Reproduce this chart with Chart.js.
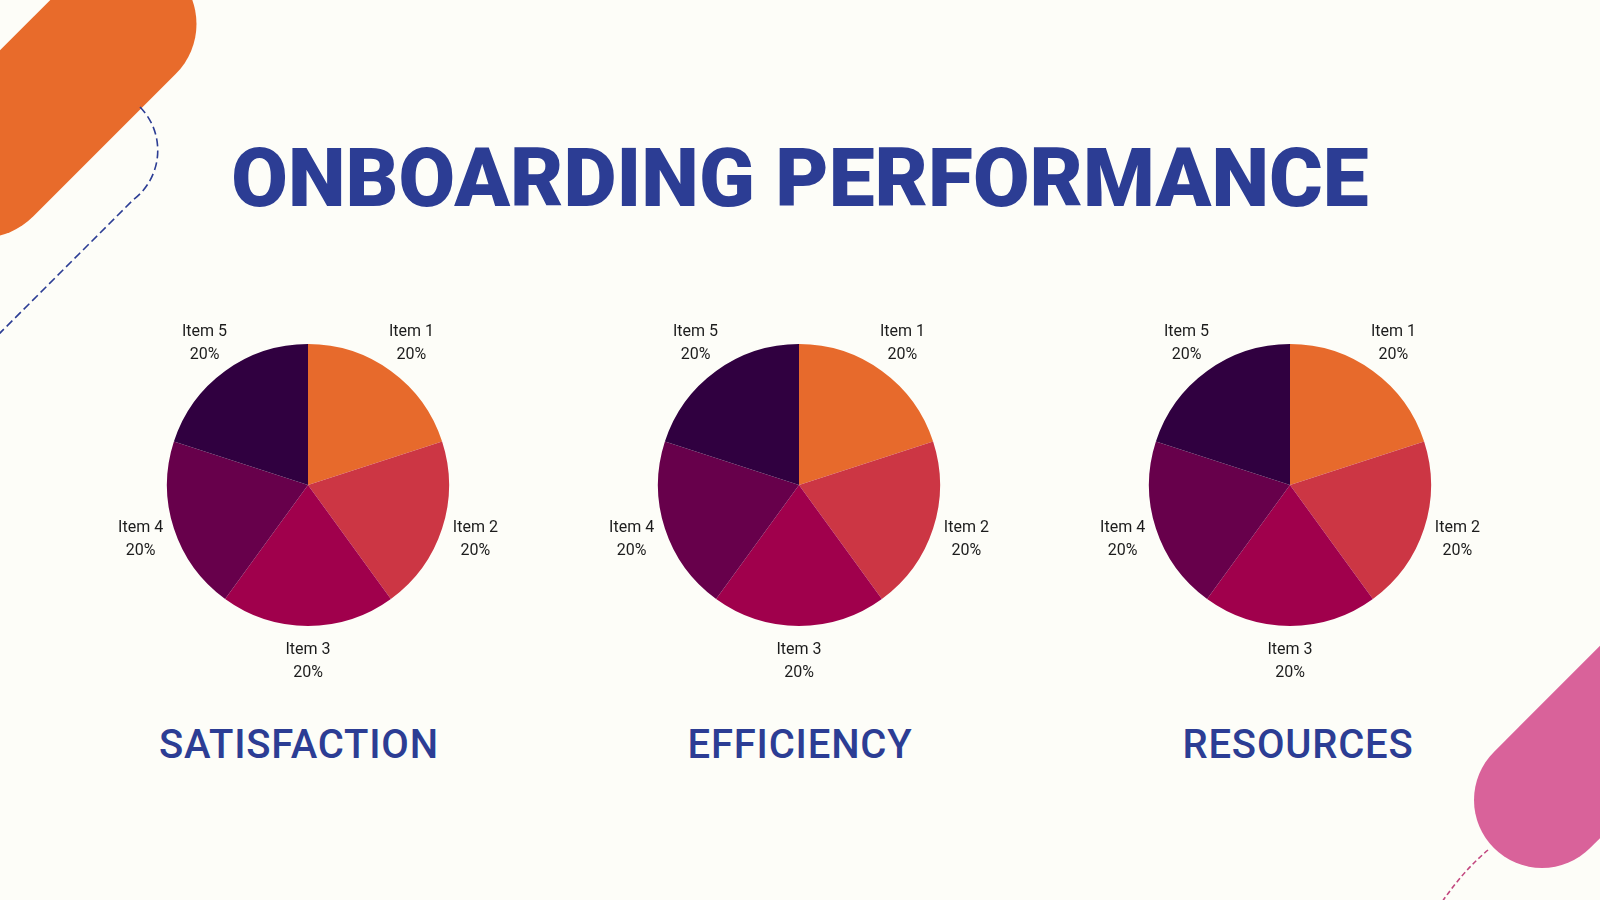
<!DOCTYPE html>
<html>
<head>
<meta charset="utf-8">
<script src="https://cdn.jsdelivr.net/npm/chart.js@4"></script>
<style>
  html, body { margin: 0; padding: 0; }
  body {
    width: 1600px; height: 900px; overflow: hidden; position: relative;
    background: #fdfdf8; font-family: Roboto, "Noto Sans", sans-serif;
  }
  .deco { position: absolute; left: 0; top: 0; }
  h1 {
    position: absolute; left: 0; width: 1600px; top: 133px; margin: 0;
    text-align: center; font-size: 82px; line-height: 90px; font-weight: 900;
    color: #2c3d94; letter-spacing: 0;
  }
  .pie { position: absolute; width: 420px; height: 420px; top: 275px; }
  .sub {
    position: absolute; width: 400px; top: 722px; margin: 0; text-align: center;
    font-size: 40px; line-height: 46px; font-weight: 500; color: #2c3d94;
    letter-spacing: 0.8px;
  }
</style>
</head>
<body>
<svg class="deco" width="1600" height="900">
  <line x1="-17" y1="167" x2="126" y2="24" stroke="#e86b2b" stroke-width="141" stroke-linecap="round"/>
  <path d="M 140 107 A 62 62 0 0 1 133 200 L -10 343" fill="none" stroke="#2c3d94" stroke-width="1.6" stroke-dasharray="8 4"/>
  <line x1="1542" y1="800" x2="1760" y2="582" stroke="#d9629a" stroke-width="136" stroke-linecap="round"/>
  <path d="M 1488 850 Q 1462 872 1440 905" fill="none" stroke="#c2477f" stroke-width="1.6" stroke-dasharray="5 3"/>
</svg>

<h1>ONBOARDING PERFORMANCE</h1>

<div class="pie" style="left:98px"><canvas id="pie1"></canvas></div>
<div class="pie" style="left:589px"><canvas id="pie2"></canvas></div>
<div class="pie" style="left:1080px"><canvas id="pie3"></canvas></div>

<div class="sub" style="left:99px">SATISFACTION</div>
<div class="sub" style="left:600px">EFFICIENCY</div>
<div class="sub" style="left:1098px">RESOURCES</div>

<script>
const itemLabels = ['Item 1', 'Item 2', 'Item 3', 'Item 4', 'Item 5'];
const satisfactionValues = [20, 20, 20, 20, 20];
const efficiencyValues = [20, 20, 20, 20, 20];
const resourcesValues = [20, 20, 20, 20, 20];
const sliceColors = ['#e76a2c', '#cc3644', '#a0004c', '#67004b', '#300040'];

// labels outside each slice: name on top, percentage below
const outsideLabels = {
    id: 'outsideLabels',
    afterDatasetsDraw(chart) {
        const ctx = chart.ctx;
        const meta = chart.getDatasetMeta(0);
        const values = chart.data.datasets[0].data;
        const total = values.reduce((a, b) => a + b, 0);
        ctx.save();
        ctx.font = '16px Roboto';
        ctx.fillStyle = '#1c1c1c';
        ctx.textAlign = 'center';
        ctx.textBaseline = 'middle';
        meta.data.forEach((arc, i) => {
            const p = arc.getProps(['x', 'y', 'startAngle', 'endAngle', 'outerRadius'], true);
            const mid = (p.startAngle + p.endAngle) / 2;
            const r = p.outerRadius + 35;
            const lx = p.x + Math.cos(mid) * r;
            const ly = p.y + Math.sin(mid) * r;
            const pct = Math.round(values[i] / total * 100) + '%';
            ctx.fillText(chart.data.labels[i], lx, ly - 11);
            ctx.fillText(pct, lx, ly + 12);
        });
        ctx.restore();
    }
};

const makePie = (id, values) => {
    const canvas = document.getElementById(id);
    if (!canvas) return;
    new Chart(canvas.getContext('2d'), {
        type: 'pie',
        data: {
            labels: itemLabels,
            datasets: [{
                data: values,
                backgroundColor: sliceColors,
                borderWidth: 0
            }]
        },
        options: {
            responsive: true,
            maintainAspectRatio: false,
            animation: false,
            layout: { padding: 69 },
            plugins: {
                legend: { display: false },
                tooltip: { enabled: false }
            }
        },
        plugins: [outsideLabels]
    });
};

makePie('pie1', satisfactionValues);
makePie('pie2', efficiencyValues);
makePie('pie3', resourcesValues);
</script>
</body>
</html>
